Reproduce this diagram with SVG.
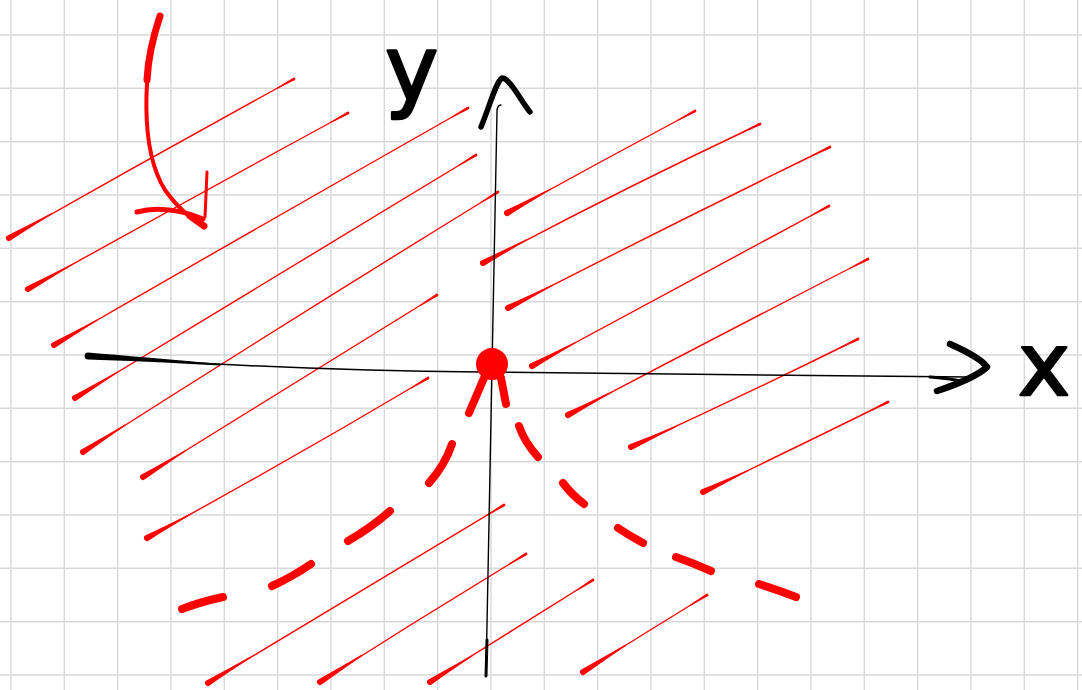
<svg xmlns="http://www.w3.org/2000/svg" width="1082" height="690" viewBox="0 0 1082 690">
<style>
.grid{stroke:#d9d9d9;stroke-width:1.4;fill:none}
.h{stroke:#ff0000;stroke-width:1.4;fill:none;stroke-linecap:round;marker-start:url(#tear);marker-end:url(#tip)}
.dash{stroke:#ff0000;stroke-width:8;fill:none;stroke-linecap:round}
.ink{stroke:#000;fill:none;stroke-linecap:round;stroke-linejoin:round}
.lbl{font-family:"DejaVu Sans","Liberation Sans",sans-serif;fill:#000;stroke:#000;stroke-width:2.5;stroke-linejoin:round}
</style>
<defs>
<marker id="tear" markerUnits="userSpaceOnUse" orient="auto" refX="0" refY="0" markerWidth="60" markerHeight="10" overflow="visible">
<path d="M0,-3 Q18,-1.8 50,-0.6 L50,0.6 Q18,1.8 0,3 A3,3 0 0 1 0,-3 Z" fill="#ff0000"/>
</marker>
<marker id="tip" markerUnits="userSpaceOnUse" orient="auto" refX="0" refY="0" markerWidth="30" markerHeight="6" overflow="visible">
<path d="M0,-1.4 Q-8,-1 -20,-0.5 L-20,0.5 Q-8,1 0,1.4 A1.4,1.4 0 0 0 0,-1.4 Z" fill="#ff0000"/>
</marker>
</defs>
<rect width="1082" height="690" fill="#fff"/>
<g id="grid">
<path class="grid" d="M11,0V690M64.3,0V690M117.7,0V690M171,0V690M224.3,0V690M277.7,0V690M331,0V690M384.3,0V690M437.7,0V690M491,0V690M544.3,0V690M597.7,0V690M651,0V690M704.3,0V690M757.7,0V690M811,0V690M864.3,0V690M917.7,0V690M971,0V690M1024.3,0V690M1077.7,0V690"/>
<path class="grid" d="M0,35H1082M0,88.3H1082M0,141.7H1082M0,195H1082M0,248.3H1082M0,301.7H1082M0,355H1082M0,408.3H1082M0,461.7H1082M0,515H1082M0,568.3H1082M0,621.7H1082M0,675H1082"/>
</g>
<g id="hatching">
<path class="h" d="M9,238 Q150,158 294,79"/>
<path class="h" d="M28,289 Q190,199 348,113"/>
<path class="h" d="M54,345 Q260,226 468,108"/>
<path class="h" d="M75,398 Q275,276 476,155"/>
<path class="h" d="M83,452 Q290,320 498,192"/>
<path class="h" d="M143,477 Q290,386 437,295"/>
<path class="h" d="M147,538 Q290,460 428,378"/>
<path class="h" d="M507,213 Q600,162 695,111"/>
<path class="h" d="M483,263 Q620,190 760,124"/>
<path class="h" d="M508,308 Q670,225 830,147"/>
<path class="h" d="M532,366 Q680,286 829,206"/>
<path class="h" d="M568,415 Q720,335 868,259"/>
<path class="h" d="M631,447 Q745,395 858,339"/>
<path class="h" d="M703,492 Q795,448 888,402"/>
<path class="h" d="M208,683 Q355,594 504,505"/>
<path class="h" d="M320,682 Q422,617 526,554"/>
<path class="h" d="M430,682 Q512,631 593,580"/>
<path class="h" d="M583,672 Q645,633 707,595"/>
</g>
<g id="axes">
<path class="ink" d="M88,356 C200,364 350,371 480,372 L968,377" stroke-width="1.5"/>
<path d="M88,352.6 Q140,357 220,364 L220,365.4 Q140,361 88,359.4 A3.4,3.4 0 0 1 88,352.6 Z" fill="#000"/>
<path class="ink" d="M930,377 C945,378 955,380 962,381" stroke-width="3"/>
<path class="ink" d="M950,344 C968,352 982,360 987,367 C975,378 952,386 937,391" stroke-width="6.5"/>
<path class="ink" d="M501,105 Q497,105 497,112 L486,676" stroke-width="1.4" stroke="#333"/>
<path class="ink" d="M487,640 L486,676" stroke-width="3"/>
<path class="ink" d="M481,127 C490,105 496,82 502,78 C510,78 520,100 530,112" stroke-width="5.5"/>
</g>
<g id="labels">
<text class="lbl" x="385" y="100" font-size="90">y</text>
<text class="lbl" x="1018" y="395" font-size="88">x</text>
</g>
<g id="origin">
<ellipse cx="492" cy="364" rx="16" ry="16" fill="#ff0000"/>
<path class="dash" d="M484,378 L469,413" stroke-width="10"/>
<path class="dash" d="M501,378 L506,404" stroke-width="10"/>
</g>
<g id="dashes">
<path class="dash" d="M452,444 Q445,465 429,483"/>
<path class="dash" d="M390,511 Q372,527 348,541"/>
<path class="dash" d="M311,564 Q292,577 272,586" stroke-width="7"/>
<path class="dash" d="M223,597 Q200,602 182,609" stroke-width="7"/>
<path class="dash" d="M519,426 Q525,443 538,457"/>
<path class="dash" d="M563,483 Q572,495 584,504"/>
<path class="dash" d="M618,528 Q630,536 643,543"/>
<path class="dash" d="M676,557 Q693,563 711,571"/>
<path class="dash" d="M759,584 Q778,590 796,597"/>
</g>
<g id="pointer">
<path d="M160,16 C142,70 140,150 165,190 C178,208 192,220 205,226" stroke="#ff0000" stroke-width="4" fill="none" stroke-linecap="round"/>
<path d="M160,16 C152,40 148,60 147,80" stroke="#ff0000" stroke-width="7" fill="none" stroke-linecap="round"/>
<path d="M190,216 L204,226" stroke="#ff0000" stroke-width="7" fill="none" stroke-linecap="round"/>
<path d="M137,212 C155,207 180,209 203,219" stroke="#ff0000" stroke-width="5" fill="none" stroke-linecap="round"/>
<path d="M207,172 L205,217" stroke="#ff0000" stroke-width="3" fill="none" stroke-linecap="round"/>
</g>
</svg>
